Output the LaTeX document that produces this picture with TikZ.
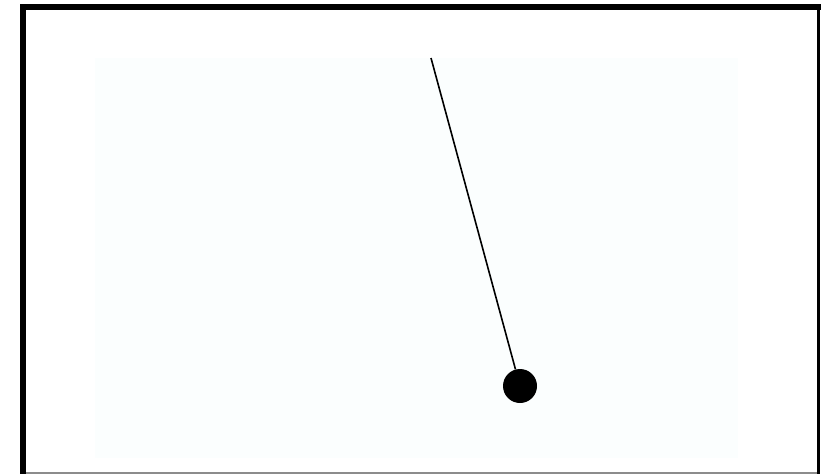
\documentclass[tikz,border=0pt]{standalone}
\usepackage{tikz}
\usetikzlibrary{positioning, calc}

\definecolor{paneltint}{rgb}{0.985,0.996,0.996}

\begin{document}
\begin{tikzpicture}[x=1pt, y=-1pt]
    \useasboundingbox (0,0) rectangle (821,474);
    % frame
    \fill[white] (0,0) rectangle (821,474);
    \fill[paneltint] (95,58) rectangle (738,458);
    \fill[black] (20,4) rectangle (26,474);
    \fill[black] (20,4) rectangle (821,10);
    \fill[black] (817,4) rectangle (820,474);
    \fill[black!45] (26,472) rectangle (817,474);
    % pendulum
    \coordinate (pivot) at (431,58);
    \node[
        circle,
        fill=black,
        inner sep=0pt,
        minimum size=34pt
    ] (bob) at (520,386) {};
    \draw[line width=1.6pt] (pivot) -- (bob);
\end{tikzpicture}
\end{document}
